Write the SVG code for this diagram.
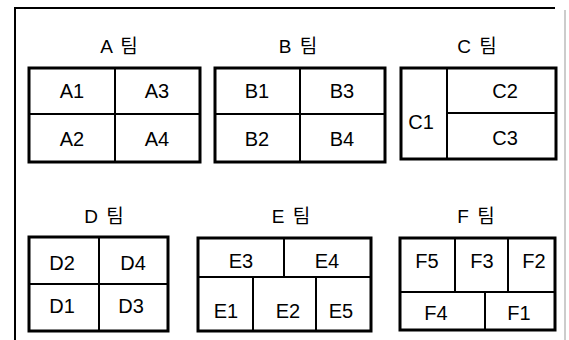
<svg xmlns="http://www.w3.org/2000/svg" width="569" height="340" viewBox="0 0 569 340">
<style>
.frame{fill:none;stroke:#000;stroke-width:2}
.box{fill:#fff;stroke:#000;stroke-width:3}
.div{stroke:#000;stroke-width:2;fill:none}
.lbl{font-family:"Liberation Sans Narrow","Liberation Sans","Noto Sans",sans-serif;font-size:20px;fill:#000;text-anchor:middle}
.ttl{font-family:"Liberation Sans Narrow","Liberation Sans","Noto Sans CJK KR",sans-serif;font-size:19px;fill:#000;text-anchor:middle;word-spacing:3px}
</style>
<rect width="569" height="340" fill="#fff"/>
<g id="frame">
<path class="frame" d="M15,340 V8 H555"/>
<path d="M565,10 V340" stroke="#bbb" stroke-width="1.5" fill="none"/>
</g>
<g id="teamA">
<text class="ttl" x="119" y="53">A 팀</text>
<rect class="box" x="29" y="68" width="171" height="94"/>
<path class="div" d="M29,114 H200 M115,68 V162"/>
<text class="lbl" x="72" y="98">A1</text>
<text class="lbl" x="157" y="98">A3</text>
<text class="lbl" x="72" y="146">A2</text>
<text class="lbl" x="157" y="146">A4</text>
</g>
<g id="teamB">
<text class="ttl" x="298" y="53">B 팀</text>
<rect class="box" x="215" y="68" width="170" height="94"/>
<path class="div" d="M215,114 H385 M300,68 V162"/>
<text class="lbl" x="257" y="98">B1</text>
<text class="lbl" x="342" y="98">B3</text>
<text class="lbl" x="257" y="146">B2</text>
<text class="lbl" x="342" y="146">B4</text>
</g>
<g id="teamC">
<text class="ttl" x="477" y="53">C 팀</text>
<rect class="box" x="401" y="68" width="155" height="91"/>
<path class="div" d="M447,68 V159 M447,113 H556"/>
<text class="lbl" x="421" y="129">C1</text>
<text class="lbl" x="505" y="98">C2</text>
<text class="lbl" x="505" y="145">C3</text>
</g>
<g id="teamD">
<text class="ttl" x="104" y="223">D 팀</text>
<rect class="box" x="29" y="237" width="139" height="94"/>
<path class="div" d="M29,284 H168 M99,237 V331"/>
<text class="lbl" x="62" y="270">D2</text>
<text class="lbl" x="133" y="270">D4</text>
<text class="lbl" x="62" y="313">D1</text>
<text class="lbl" x="131" y="313">D3</text>
</g>
<g id="teamE">
<text class="ttl" x="291" y="223">E 팀</text>
<rect class="box" x="198" y="238" width="173" height="93"/>
<path class="div" d="M198,277 H371 M284,238 V277 M253,277 V331 M316,277 V331"/>
<text class="lbl" x="241" y="268">E3</text>
<text class="lbl" x="327" y="268">E4</text>
<text class="lbl" x="226" y="318">E1</text>
<text class="lbl" x="288" y="318">E2</text>
<text class="lbl" x="341" y="318">E5</text>
</g>
<g id="teamF">
<text class="ttl" x="476" y="223">F 팀</text>
<rect class="box" x="400" y="238" width="155" height="92"/>
<path class="div" d="M400,292 H555 M455,238 V292 M508,238 V292 M485,292 V330"/>
<text class="lbl" x="427" y="268">F5</text>
<text class="lbl" x="482" y="268">F3</text>
<text class="lbl" x="534" y="268">F2</text>
<text class="lbl" x="436" y="320">F4</text>
<text class="lbl" x="519" y="320">F1</text>
</g>
<g id="connectors"></g>
</svg>
